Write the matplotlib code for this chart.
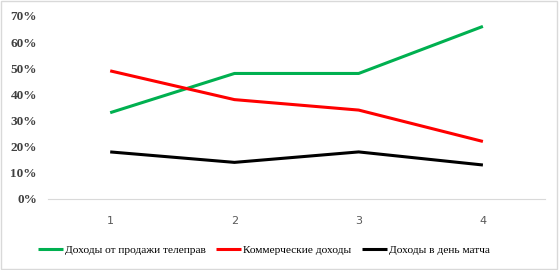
import matplotlib.pyplot as plt
from matplotlib.ticker import PercentFormatter

periods = [1, 2, 3, 4]
tv_rights = [33, 48, 48, 66]
commercial = [49, 38, 34, 22]
matchday = [18, 14, 18, 13]
labels = ['Доходы от продажи телеправ', 'Коммерческие доходы', 'Доходы в день матча']
colors = ['#00b050', '#ff0000', '#000000']

fig = plt.figure(figsize=(5.59, 2.70), dpi=100)
ax = fig.add_axes([0.086, 0.263, 0.889, 0.678])

for vals, lab, col in zip([tv_rights, commercial, matchday], labels, colors):
    ax.plot(periods, vals, color=col, lw=2.2, label=lab, solid_capstyle='butt')

ax.set_xlim(0.5, 4.5)
ax.set_ylim(0, 70)
ax.set_yticks(range(0, 71, 10))
ax.yaxis.set_major_formatter(PercentFormatter(decimals=0))
ax.set_xticks(periods)
for s in ['top', 'right', 'left']:
    ax.spines[s].set_visible(False)
ax.spines['bottom'].set_color('#d9d9d9')
ax.tick_params(length=0)
ax.tick_params(axis='x', pad=12, labelsize=8, labelcolor='#595959')
for t in ax.get_yticklabels():
    t.set_fontfamily('Liberation Serif')
    t.set_fontweight('bold')
    t.set_fontsize(9.5)
    t.set_color('#404040')
ax.tick_params(axis='y', pad=8)

fig.legend(loc='center', bbox_to_anchor=(0.472, 0.074), ncol=3, frameon=False,
           prop={'family': 'Liberation Serif', 'size': 8.2}, handlelength=2.2,
           handletextpad=0.2, columnspacing=0.9)

border = plt.Rectangle((0.002, 0.004), 0.995, 0.992, transform=fig.transFigure,
                       fill=False, edgecolor='#d9d9d9', lw=1)
fig.patches.append(border)

fig.savefig('out.png', dpi=100)
